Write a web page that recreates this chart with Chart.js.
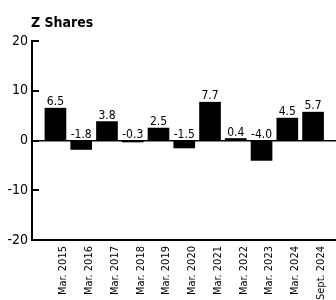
<!DOCTYPE html>
<html>
<head>
<meta charset="utf-8">
<script src="https://cdn.jsdelivr.net/npm/chart.js@4.4.1/dist/chart.umd.min.js"></script>
<style>
  html, body { margin: 0; padding: 0; background: #fff; }
  #wrap { width: 336px; height: 300px; position: relative; }
</style>
</head>
<body>
<div id="wrap"><canvas id="barChart"></canvas></div>
<script>
// Periods along the bottom axis
var periods = ['Mar. 2015', 'Mar. 2016', 'Mar. 2017', 'Mar. 2018', 'Mar. 2019', 'Mar. 2020',
  'Mar. 2021', 'Mar. 2022', 'Mar. 2023', 'Mar. 2024', 'Sept. 2024'];
// Z Shares return for each period (%)
var returns = [6.5, -1.8, 3.8, -0.3, 2.5, -1.5, 7.7, 0.4, -4.0, 4.5, 5.7];
// Y axis tick values
var yTicks = [-20, -10, 0, 10, 20];
var chartTitle = 'Z Shares';

var FONT = "'Liberation Sans Narrow', 'DejaVu Sans Condensed', 'Liberation Sans', sans-serif";

// title, inner tick marks and value labels
var decorPlugin = {
  id: 'decor',
  afterDraw: function (chart) {
    var ctx = chart.ctx;
    var area = chart.chartArea;
    var y = chart.scales.y;
    ctx.save();
    ctx.fillStyle = '#000';
    ctx.strokeStyle = '#000';

    ctx.font = 'bold 14px ' + FONT;
    ctx.textAlign = 'left';
    ctx.textBaseline = 'alphabetic';
    ctx.fillText(chartTitle, area.left - 1, 27);

    ctx.lineWidth = 2;
    ctx.beginPath();
    yTicks.forEach(function (v) {
      var py = Math.round(y.getPixelForValue(v));
      ctx.moveTo(area.left, py);
      ctx.lineTo(area.left + 7, py);
    });
    ctx.stroke();

    ctx.font = '12px ' + FONT;
    ctx.textAlign = 'center';
    var meta = chart.getDatasetMeta(0);
    meta.data.forEach(function (bar, i) {
      var top = Math.min(bar.y, bar.base);
      ctx.fillText(returns[i].toFixed(1), bar.x, top - 3);
    });
    ctx.restore();
  }
};

var ctx = document.getElementById('barChart').getContext('2d');

var myBarChart = new Chart(ctx, {
  type: 'bar',
  data: {
    datasets: [{
      data: returns.map(function (v, i) { return { x: i, y: v }; }),
      backgroundColor: '#000',
      borderWidth: 0,
      barThickness: 21
    }]
  },
  options: {
    responsive: true,
    maintainAspectRatio: false,
    animation: false,
    layout: { padding: { top: 41, left: 0, right: 0, bottom: 0 } },
    plugins: {
      legend: { display: false },
      tooltip: { enabled: false }
    },
    scales: {
      x: {
        type: 'linear',
        offset: false,
        min: -0.91,
        max: 10.89,
        grid: { display: false, drawTicks: false, offset: false },
        border: { display: true, color: '#000', width: 2 },
        ticks: {
          stepSize: 1,
          includeBounds: false,
          autoSkip: false,
          minRotation: 90,
          maxRotation: 90,
          padding: 6,
          labelOffset: 8,
          color: '#000',
          font: { family: FONT, size: 11 },
          callback: function (v) {
            return Number.isInteger(v) && periods[v] ? periods[v] : '';
          }
        },
        afterFit: function (scale) { scale.height = 60; }
      },
      y: {
        min: -20,
        max: 20,
        afterBuildTicks: function (scale) {
          scale.ticks = yTicks.map(function (v) { return { value: v }; });
        },
        grid: {
          drawTicks: false,
          color: function (c) { return c.tick && c.tick.value === 0 ? '#000' : 'rgba(0,0,0,0)'; },
          lineWidth: 1.5
        },
        border: { display: true, color: '#000', width: 2 },
        ticks: {
          padding: 4,
          color: '#000',
          font: { family: FONT, size: 14 }
        },
        afterFit: function (scale) { scale.width = 32; }
      }
    }
  },
  plugins: [decorPlugin]
});
</script>
</body>
</html>
